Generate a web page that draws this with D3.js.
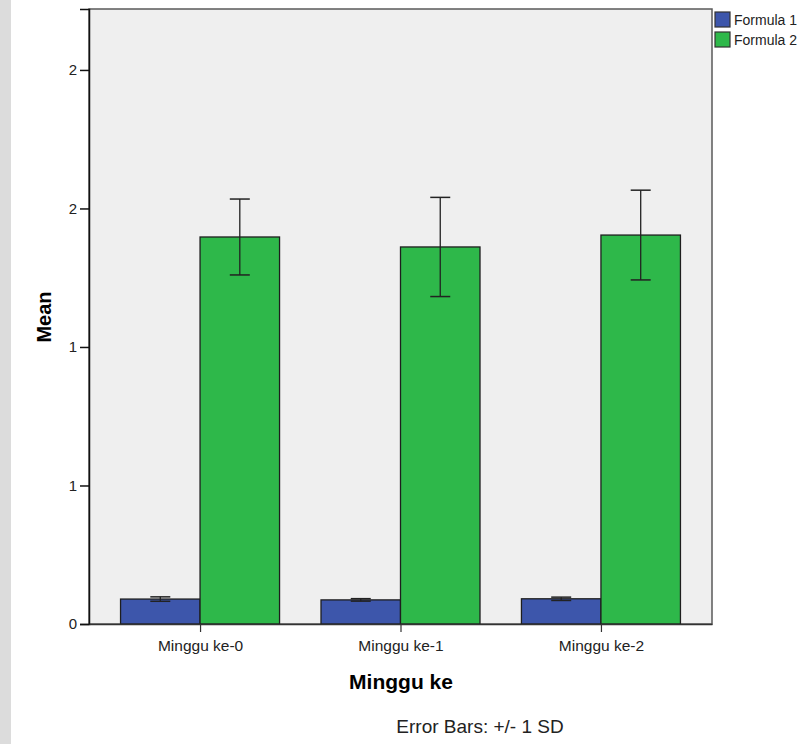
<!DOCTYPE html>
<html>
<head>
<meta charset="utf-8">
<script src="https://cdn.jsdelivr.net/npm/d3@7"></script>
<style>
  body { margin: 0; background: #fff; }
  svg { display: block; font-family: "Liberation Sans", Arial, sans-serif; }
</style>
</head>
<body>
<svg id="chart" width="804" height="744"></svg>
<script>
// data
const categories = ["Minggu ke-0", "Minggu ke-1", "Minggu ke-2"];
const seriesNames = ["Formula 1", "Formula 2"];
const formula1Mean = [0.090, 0.087, 0.091];
const formula1Sd = [0.008, 0.0045, 0.006];
const formula2Mean = [1.397, 1.361, 1.404];
const formula2Sd = [0.137, 0.179, 0.162];
const yTickValues = [0, 0.5, 1, 1.5, 2];
const yTickLabels = ["0", "1", "1", "2", "2"];
const colors = ["#3d56ab", "#2eb84a"];

const svg = d3.select("#chart");
const width = 804, height = 744;
const margin = { top: 9, right: 92, bottom: 120, left: 89 };
const innerWidth = width - margin.left - margin.right;
const innerHeight = height - margin.top - margin.bottom;

// faint gray strip on the far left of the original scan
svg.append("rect").attr("x", 0).attr("y", 0).attr("width", 11).attr("height", height).attr("fill", "#dcdcdc");

const g = svg.append("g").attr("transform", `translate(${margin.left}, ${margin.top})`);

const xScale = d3.scalePoint().domain(categories).range([0, innerWidth]).padding(0.554);
const yScale = d3.scaleLinear().domain([0, 2.22]).range([innerHeight, 0]);
const barWidth = 79.5;

g.append("rect")
  .attr("width", innerWidth)
  .attr("height", innerHeight)
  .attr("fill", "#efefef")
  .attr("stroke", "#5a5a5a")
  .attr("stroke-width", 1.5);

const rows = [];
categories.forEach((c, i) => {
  rows.push({ cat: c, s: 0, mean: formula1Mean[i], sd: formula1Sd[i] });
  rows.push({ cat: c, s: 1, mean: formula2Mean[i], sd: formula2Sd[i] });
});

const barX = (d) => xScale(d.cat) + (d.s === 0 ? -barWidth : 0);

g.selectAll("rect.bar")
  .data(rows)
  .join("rect")
  .attr("class", "bar")
  .attr("x", barX)
  .attr("y", (d) => yScale(d.mean))
  .attr("width", barWidth)
  .attr("height", (d) => innerHeight - yScale(d.mean))
  .attr("fill", (d) => colors[d.s])
  .attr("stroke", "#1e1e1e")
  .attr("stroke-width", 1.3);

// error bars +/- 1 SD
const err = g.selectAll("g.err").data(rows).join("g").attr("class", "err")
  .attr("transform", (d) => `translate(${barX(d) + barWidth / 2}, 0)`);
err.append("line")
  .attr("y1", (d) => yScale(d.mean + d.sd))
  .attr("y2", (d) => yScale(d.mean - d.sd))
  .attr("stroke", "#222").attr("stroke-width", 1.3);
err.selectAll("line.cap")
  .data((d) => [d.mean + d.sd, d.mean - d.sd])
  .join("line")
  .attr("class", "cap")
  .attr("x1", -10).attr("x2", 10)
  .attr("y1", (v) => yScale(v)).attr("y2", (v) => yScale(v))
  .attr("stroke", "#222").attr("stroke-width", 1.5);

// axes
const yAxis = d3.axisLeft(yScale)
  .tickValues(yTickValues)
  .tickFormat((d, i) => yTickLabels[i])
  .tickSize(9)
  .tickPadding(3);
const yG = g.append("g").call(yAxis);
yG.select(".domain").attr("stroke", "#111").attr("stroke-width", 1.5);
yG.selectAll(".tick line").attr("stroke", "#111").attr("stroke-width", 1.5);
yG.selectAll("text").attr("font-size", 15).attr("fill", "#222");

const xAxis = d3.axisBottom(xScale).tickSize(8).tickPadding(8).tickSizeOuter(0);
const xG = g.append("g").attr("transform", `translate(0, ${innerHeight})`).call(xAxis);
xG.select(".domain").attr("stroke", "#333").attr("stroke-width", 1.5);
xG.selectAll(".tick line").attr("stroke", "#333").attr("stroke-width", 1.2);
xG.selectAll("text").attr("font-size", 15.5).attr("fill", "#222");

// axis titles
svg.append("text")
  .attr("transform", "translate(51, 317) rotate(-90)")
  .attr("text-anchor", "middle")
  .attr("font-size", 20).attr("font-weight", "bold")
  .text("Mean");
svg.append("text")
  .attr("x", 401).attr("y", 689)
  .attr("text-anchor", "middle")
  .attr("font-size", 21).attr("font-weight", "bold")
  .text("Minggu ke");
svg.append("text")
  .attr("x", 480).attr("y", 733)
  .attr("text-anchor", "middle")
  .attr("font-size", 19).attr("fill", "#222")
  .text("Error Bars: +/- 1 SD");

// legend
const legend = svg.append("g").attr("transform", "translate(715, 12)");
const item = legend.selectAll("g").data(seriesNames).join("g")
  .attr("transform", (d, i) => `translate(0, ${i * 20})`);
item.append("rect")
  .attr("width", 15).attr("height", 15)
  .attr("fill", (d, i) => colors[i])
  .attr("stroke", "#333").attr("stroke-width", 1.2);
item.append("text")
  .attr("x", 19).attr("y", 13)
  .attr("font-size", 14).attr("fill", "#222")
  .text((d) => d);
</script>
</body>
</html>
